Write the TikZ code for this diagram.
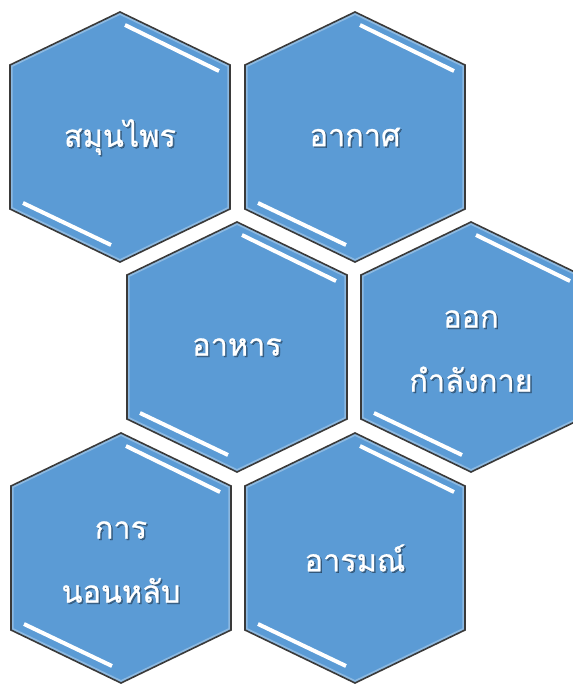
\documentclass[tikz,border=0pt]{standalone}
\usepackage{fontspec}
\newfontfamily\thaifont[Script=Thai, FakeBold=0.8]{Loma}
\definecolor{hexblue}{HTML}{5B9BD5}
\definecolor{hexline}{HTML}{3A3A3A}

\begin{document}
\begin{tikzpicture}[
        x=0.75pt, y=-0.75pt,
        hex shape/.style={insert path={(0,-125) -- (110,-72) -- (110,72) -- (0,125) -- (-110,72) -- (-110,-72) -- cycle}},
        hex fill/.style={fill=hexblue},
        hex bevel/.style={draw=white, draw opacity=0.3, line width=4pt},
        hex border/.style={draw=hexline, line width=1.2pt, line join=miter},
        gleam line/.style={draw=white, line width=3pt},
        hex text/.style={text=white, align=center, font=\thaifont\fontsize{23}{48}\selectfont},
        hex shadow/.style={hex text, text=black, text opacity=0.35},
    ]

    % Khung ảnh cố định 573 x 684 px
    \useasboundingbox (0,0) rectangle (573,684);
    \fill[white] (0,0) rectangle (573,684);
    \clip (0,0) rectangle (573,684);

    % Sáu ô lục giác: tâm x / tâm y / dịch chữ / tên / nhãn
    \foreach \cx/\cy/\dy/\name/\word in {
            120/137/0/herb/{สมุนไพร},
            355/137/0/air/{อากาศ},
            237/347/0/food/{อาหาร},
            471/347/4/exercise/{ออก\\กำลังกาย},
            121/558/4/sleep/{การ\\นอนหลับ},
            355/558/0/mood/{อารมณ์}} {
        \begin{scope}[shift={(\cx,\cy)}]
            % Nền và viền sáng bên trong
            \path[hex fill, hex shape];
            \begin{scope}
                \clip[hex shape];
                \path[hex bevel, hex shape];
            \end{scope}
            \path[hex border, hex shape];

            % Hai vệt sáng ở cạnh trên phải và dưới trái
            \path[gleam line] (5,-112) -- (99,-66);
            \path[gleam line] (-97,66) -- (-9,108);

            % Chữ có bóng đổ
            \node[hex shadow] (shadow-\name) at (1.5,\dy+1.5) {\word};
            \node[hex text] (\name) at (0,\dy) {\word};
        \end{scope}
    }

\end{tikzpicture}
\end{document}
